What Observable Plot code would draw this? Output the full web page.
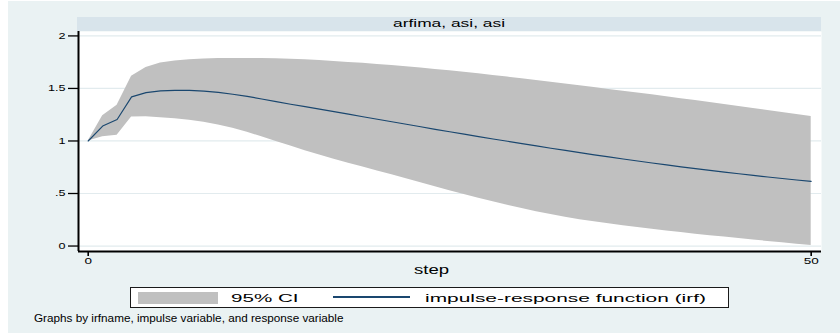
<!DOCTYPE html>
<html>
<head>
<meta charset="utf-8">
<script src="https://cdn.jsdelivr.net/npm/d3@7"></script>
<script src="https://cdn.jsdelivr.net/npm/@observablehq/plot@0.6"></script>
<style>
  html, body { margin: 0; padding: 0; background: #fff; }
  #graph { position: relative; width: 840px; height: 333px; overflow: hidden;
           font-family: "Liberation Sans", Arial, Helvetica, sans-serif; color: #000; }
  #region { position: absolute; left: 8px; top: 1px; width: 832px; height: 332px; background: #eaf2f3; }
  #strip { position: absolute; left: 77px; top: 17px; width: 744px; height: 14px; background: #d8e4eb; }
  #plot { position: absolute; left: 0; top: 0; }
  .wide { position: absolute; white-space: nowrap; line-height: 1; transform-origin: 0 50%; }
  #legend { position: absolute; left: 129.5px; top: 287px; width: 599px; height: 21px;
            box-sizing: border-box; border: 1px solid #1a1a1a; background: #fff; }
  .key { position: absolute; }
</style>
</head>
<body>
<div id="graph">
  <div id="region"></div>
  <div id="strip"></div>
  <div id="plot"></div>
  <div class="wide" id="panelTitle" data-w="112" style="left:393.3px; top:17.6px; font-size:10.5px;"></div>
  <div class="wide" id="xTitle" data-w="35" style="left:414px; top:264.3px; font-size:12px;"></div>
  <div id="legend"></div>
  <div class="key" style="left:137.7px; top:292px; width:80px; height:12px; background:#c0c0c0;"></div>
  <div class="wide" id="legCI" data-w="67.5" style="left:230.5px; top:291.8px; font-size:11.7px;"></div>
  <div class="key" style="left:333px; top:296.3px; width:77px; height:1.3px; background:#1a476f;"></div>
  <div class="wide" id="legIRF" data-w="281" style="left:425px; top:291.8px; font-size:11.7px;"></div>
  <div class="wide" id="note" data-w="309.5" style="left:34.3px; top:313.4px; font-size:10.7px;"></div>
</div>
<script>
// Forecast horizon (steps) and the impulse-response function with its 95% band
const steps = [0, 1, 2, 3, 4, 5, 6, 7, 8, 9,
  10, 11, 12, 13, 14, 15, 16, 17, 18, 19,
  20, 21, 22, 23, 24, 25, 26, 27, 28, 29,
  30, 31, 32, 33, 34, 35, 36, 37, 38, 39,
  40, 41, 42, 43, 44, 45, 46, 47, 48, 49, 50];

const irf = [1.000, 1.142, 1.205, 1.420, 1.460, 1.477, 1.482, 1.481, 1.475, 1.462,
  1.445, 1.425, 1.400, 1.375, 1.350, 1.327, 1.303, 1.279, 1.255, 1.231,
  1.207, 1.183, 1.159, 1.135, 1.111, 1.088, 1.065, 1.042, 1.019, 0.997,
  0.975, 0.953, 0.931, 0.910, 0.889, 0.868, 0.848, 0.828, 0.809, 0.790,
  0.772, 0.754, 0.737, 0.720, 0.704, 0.688, 0.672, 0.657, 0.643, 0.629, 0.616];

const ciUpper = [1.000, 1.240, 1.340, 1.615, 1.700, 1.742, 1.762, 1.774, 1.780, 1.784,
  1.786, 1.786, 1.785, 1.782, 1.778, 1.772, 1.765, 1.757, 1.748, 1.739,
  1.729, 1.718, 1.706, 1.694, 1.681, 1.668, 1.654, 1.639, 1.624, 1.608,
  1.592, 1.576, 1.559, 1.542, 1.525, 1.508, 1.491, 1.474, 1.457, 1.439,
  1.421, 1.403, 1.385, 1.367, 1.348, 1.329, 1.310, 1.291, 1.272, 1.253, 1.234];

const ciLower = [1.000, 1.040, 1.055, 1.228, 1.230, 1.222, 1.212, 1.198, 1.178, 1.152,
  1.120, 1.082, 1.040, 0.996, 0.951, 0.908, 0.867, 0.827, 0.789, 0.752,
  0.715, 0.678, 0.640, 0.602, 0.564, 0.526, 0.490, 0.455, 0.421, 0.388,
  0.357, 0.327, 0.299, 0.274, 0.251, 0.230, 0.211, 0.193, 0.176, 0.160,
  0.143, 0.128, 0.113, 0.099, 0.085, 0.071, 0.057, 0.044, 0.031, 0.018, 0.006];

// Axis ticks and labels
const yTicks = [0, 0.5, 1, 1.5, 2];
const yTickLabels = ["0", ".5", "1", "1.5", "2"];
const xTicks = [0, 50];
const xTickLabels = ["0", "50"];

// Texts
const panelTitle = "arfima, asi, asi";
const xTitle = "step";
const legendLabels = ["95% CI", "impulse-response function (irf)"];
const note = "Graphs by irfname, impulse variable, and response variable";

const rows = steps.map((s, i) => ({step: s, irf: irf[i], lo: ciLower[i], hi: ciUpper[i]}));

const xDomain = [-0.671, 50.713];
const yDomain = [-0.052, 2.042];
const navy = "#1a476f";

const chart = Plot.plot({
  width: 840,
  height: 333,
  marginLeft: 78,
  marginRight: 19,
  marginTop: 31,
  marginBottom: 82,
  style: {background: "transparent", fontFamily: "'Liberation Sans', Arial, sans-serif", color: "#000"},
  x: {domain: xDomain},
  y: {domain: yDomain},
  marks: [
    Plot.frame({fill: "white", stroke: "none"}),
    Plot.gridY(yTicks, {stroke: "#e2ebee", strokeOpacity: 1, strokeWidth: 1.2}),
    Plot.areaY(rows, {x: "step", y1: "lo", y2: "hi", fill: "#c0c0c0", fillOpacity: 1}),
    Plot.lineY(rows, {x: "step", y: "irf", stroke: navy, strokeWidth: 1.15}),
    Plot.axisY(yTicks, {
      tickFormat: d => yTickLabels[yTicks.indexOf(d)],
      tickSize: 10, tickPadding: 3, strokeWidth: 1.3, fontSize: 9, label: null
    }),
    Plot.axisX(xTicks, {
      tickFormat: d => xTickLabels[xTicks.indexOf(d)],
      tickSize: 5, tickPadding: 1, strokeWidth: 1.6, fontSize: 9, label: null
    }),
    Plot.ruleX([xDomain[0]], {stroke: "#000", strokeWidth: 2}),
    Plot.ruleY([yDomain[0]], {stroke: "#000", strokeWidth: 2})
  ]
});
document.getElementById("plot").appendChild(chart);

// Widen the tick labels horizontally
function stretchSvgText(selector, factor) {
  chart.querySelectorAll(selector).forEach(t => {
    const len = t.getComputedTextLength();
    t.setAttribute("textLength", (len * factor).toFixed(2));
    t.setAttribute("lengthAdjust", "spacingAndGlyphs");
  });
}
stretchSvgText('g[aria-label="y-axis tick label"] text', 1.4);
stretchSvgText('g[aria-label="x-axis tick label"] text', 1.5);

// Fill and widen the HTML texts
document.getElementById("panelTitle").textContent = panelTitle;
document.getElementById("xTitle").textContent = xTitle;
document.getElementById("legCI").textContent = legendLabels[0];
document.getElementById("legIRF").textContent = legendLabels[1];
document.getElementById("note").textContent = note;
document.querySelectorAll(".wide").forEach(el => {
  const natural = el.getBoundingClientRect().width;
  const target = +el.dataset.w;
  el.style.transform = `scaleX(${(target / natural).toFixed(4)})`;
});
</script>
</body>
</html>
